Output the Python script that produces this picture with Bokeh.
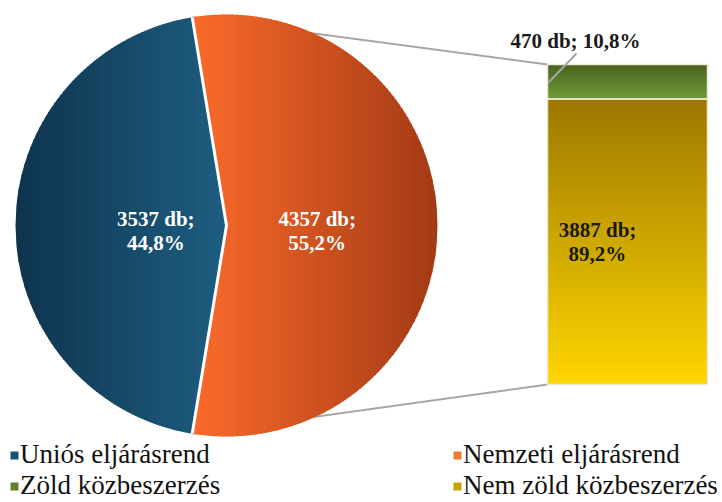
import numpy as np
from bokeh.plotting import figure
from bokeh.models import Range1d, Legend, LegendItem
from bokeh.core.properties import value
from bokeh.embed import file_html
from bokeh.resources import INLINE

# ---------------- data ----------------
pie_categories = ["Uniós eljárásrend", "Nemzeti eljárásrend"]
pie_values = [3537, 4357]
pie_labels = ["3537 db;\n44,8%", "4357 db;\n55,2%"]

bar_categories = ["Nem zöld közbeszerzés", "Zöld közbeszerzés"]  # stacked bottom -> top
bar_values = [3887, 470]
bar_labels = ["3887 db;\n89,2%", "470 db; 10,8%"]

# ---------------- layout / style ----------------
W, H = 722, 502
CX, CY, R = 226, 225, 211
BAR_X0, BAR_X1 = 547, 707
BAR_TOP, BAR_BOT = 64, 384
FONT = "Liberation Serif"

BLUE_GRAD = ("#0e344e", "#1e5e81")
ORANGE_GRAD = ("#fb6b2b", "#a33a15")
GOLD_GRAD = ("#ffd600", "#9c7800")   # bottom -> top
GREEN_GRAD = ("#709a38", "#4a6220")  # bottom -> top


def hex2rgb(h):
    h = h.lstrip("#")
    return np.array([int(h[i:i + 2], 16) for i in (0, 2, 4)], dtype=float)


def mix(c0, c1, t):
    t = min(max(t, 0.0), 1.0)
    c = hex2rgb(c0) * (1 - t) + hex2rgb(c1) * t
    return "#%02x%02x%02x" % tuple(int(round(v)) for v in c)


p = figure(width=W, height=H, x_range=Range1d(0, W), y_range=Range1d(H, 0),
           output_backend="svg", toolbar_location=None, min_border=0,
           x_axis_location=None, y_axis_location=None)
p.grid.visible = False
p.outline_line_color = None
p.background_fill_color = "white"
p.border_fill_color = "white"

# ---------------- pie geometry from data ----------------
total_pie = sum(pie_values)
a = np.pi * pie_values[1] / total_pie   # half angle of the national slice (centred on the right)
ca, sa = np.cos(a), np.sin(a)
ta = sa / ca
Tx, Ty = CX + R * ca, CY - R * sa
Bx, By = CX + R * ca, CY + R * sa


def h(u):
    return np.sqrt(np.clip(R * R - u * u, 0, None))


xs, ys, cols = [], [], []
OV = 0.8  # overlap between gradient strips (px)


def add_region(u_lo, u_hi, lower_fn, upper_fn, grad, bx0, bx1, joined, step=3.0, last=False):
    """Vertical gradient strips of a slice region, mirrored about the pie's horizontal axis."""
    n = max(2, int(np.ceil((u_hi - u_lo) / step)))
    edges = np.linspace(u_lo, u_hi, n + 1)
    for j, (e0, e1) in enumerate(zip(edges[:-1], edges[1:])):
        e1o = e1 if (last and j == n - 1) else e1 + OV
        us = np.linspace(e0, e1o, 5)
        up, lo = upper_fn(us), lower_fn(us)
        t = ((e0 + e1) / 2 + CX - bx0) / (bx1 - bx0)
        col = mix(grad[0], grad[1], t)
        px = np.concatenate([us, us[::-1]]) + CX
        if joined:   # one polygon from the top arc to the bottom arc
            xs.append(px.tolist())
            ys.append((CY + np.concatenate([-up, up[::-1]])).tolist())
            cols.append(col)
        else:
            for sign in (1, -1):
                py = CY - sign * np.concatenate([up, lo[::-1]])
                xs.append(px.tolist())
                ys.append(py.tolist())
                cols.append(col)


zero = lambda u: np.zeros_like(u)
line = lambda u: u * ta
u_k = R * ca
# Uniós slice (left)
add_region(-R, u_k, zero, h, BLUE_GRAD, CX - R, CX, True)
add_region(u_k, 0, zero, line, BLUE_GRAD, CX - R, CX, True, last=True)
# Nemzeti slice (right)
add_region(u_k, 0, line, h, ORANGE_GRAD, CX + u_k, CX + R, False)
add_region(0, R, zero, h, ORANGE_GRAD, CX + u_k, CX + R, True, last=True)

# connector lines (beneath the pie)
p.line([Tx, BAR_X0], [Ty, BAR_TOP], line_color="#a6a6a6", line_width=2)
p.line([Bx, BAR_X0], [By, BAR_BOT], line_color="#a6a6a6", line_width=2)

p.patches(xs=xs, ys=ys, fill_color=cols, line_color=None)
p.line([Tx, CX, Bx], [Ty, CY, By], line_color="white", line_width=3)

# pie labels
p.text(x=[CX - 0.335 * R, CX + 0.43 * R], y=[CY + 5, CY + 5], text=pie_labels,
       text_color="white", text_font=value(FONT), text_font_style="bold",
       text_font_size="21px", text_align="center", text_baseline="middle",
       text_line_height=1.0)

# ---------------- stacked bar via its own value range ----------------
total_bar = sum(bar_values)
k = (BAR_BOT - BAR_TOP) / total_bar
p.extra_y_ranges = {"bar": Range1d(start=-(H - BAR_BOT) / k,
                                   end=total_bar + BAR_TOP / k)}
cum = np.concatenate([[0], np.cumsum(bar_values)])
for i, grad in enumerate([GOLD_GRAD, GREEN_GRAD]):
    lo_v, hi_v = cum[i], cum[i + 1]
    n = max(8, int(np.ceil((hi_v - lo_v) * k / 3)))
    edges = np.linspace(lo_v, hi_v, n + 1)
    tops = np.minimum(edges[1:] + 0.8 / k, hi_v)
    cc = [mix(grad[0], grad[1], (j + 0.5) / n) for j in range(n)]
    p.quad(left=BAR_X0, right=BAR_X1, bottom=edges[:-1], top=tops,
           fill_color=cc, line_color=None, y_range_name="bar")
p.quad(left=BAR_X0, right=BAR_X1, bottom=cum[:-1], top=cum[1:], fill_color=None,
       line_color="#ece9d6", line_width=1.5, y_range_name="bar")

# bar labels
p.text(x=[BAR_X0 + 50], y=[bar_values[0] / 2], text=[bar_labels[0]],
       text_color="#1a1a1a", text_font=value(FONT), text_font_style="bold",
       text_font_size="21px", text_align="center", text_baseline="middle",
       text_line_height=1.0, y_range_name="bar")
p.text(x=[BAR_X0 + 28], y=[total_bar], y_offset=-24, text=[bar_labels[1]],
       text_color="#1a1a1a", text_font=value(FONT), text_font_style="bold",
       text_font_size="21px", text_align="center", text_baseline="middle",
       y_range_name="bar")
# leader line for the small label
p.line([BAR_X0 + 29, BAR_X0 + 1], [BAR_TOP - 11, BAR_TOP + 18], line_color="#a6a6a6", line_width=2)

# ---------------- legends ----------------
legend_colors = {"Uniós eljárásrend": "#17506f", "Nemzeti eljárásrend": "#ed7d31",
                 "Zöld közbeszerzés": "#5e8030", "Nem zöld közbeszerzés": "#c9a200"}
dummies = {}
for name, c in legend_colors.items():
    # placed outside the visible area: only used for the legend swatch
    dummies[name] = p.quad(left=[-50], right=[-40], bottom=[-50], top=[-40],
                           fill_color=c, line_color=None)


def make_legend(names, loc):
    lg = Legend(items=[LegendItem(label=n, renderers=[dummies[n]]) for n in names],
                location=loc, orientation="vertical",
                label_text_font=FONT, label_text_font_size="27px", label_text_color="#111111",
                glyph_width=10, glyph_height=10, label_standoff=1, spacing=-1,
                padding=0, margin=0, border_line_alpha=0, background_fill_alpha=0)
    p.add_layout(lg)


make_legend(["Uniós eljárásrend", "Zöld közbeszerzés"], (9, 1))
make_legend(["Nemzeti eljárásrend", "Nem zöld közbeszerzés"], (452, 1))

open("out.html", "w").write(file_html(p, INLINE))
